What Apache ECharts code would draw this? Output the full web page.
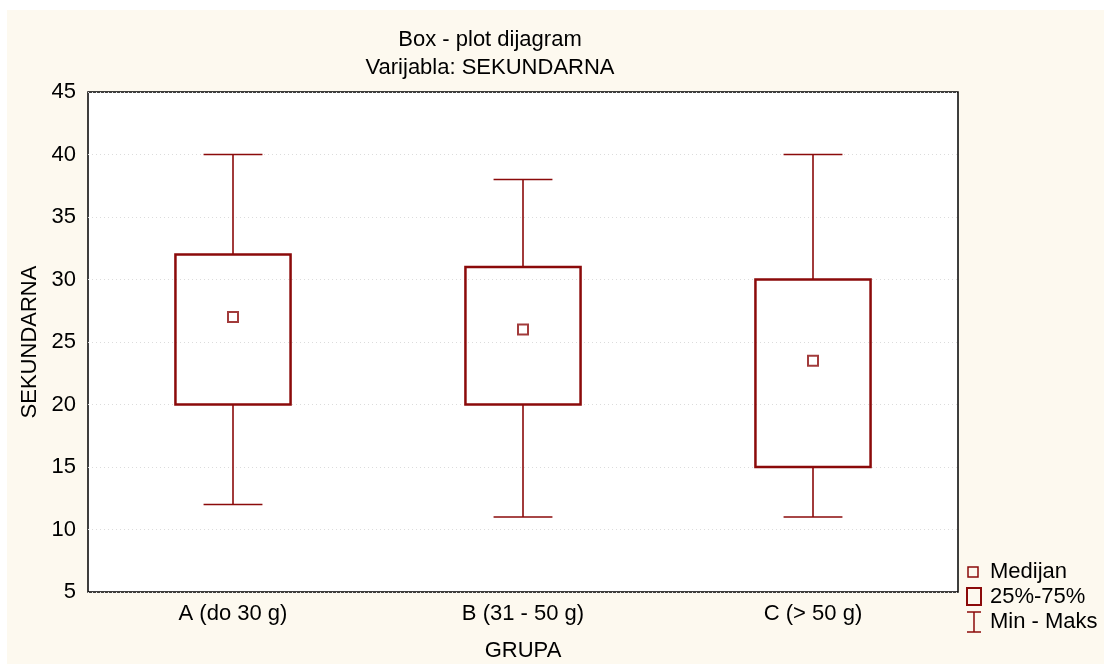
<!DOCTYPE html>
<html><head><meta charset="utf-8">
<script src="https://cdn.jsdelivr.net/npm/echarts@6/dist/echarts.min.js"></script>
<style>html,body{margin:0;padding:0;background:#fff}#c{width:1104px;height:664px}</style>
</head><body><div id="c"></div>
<script>
const categories = ['A (do 30 g)', 'B (31 - 50 g)', 'C (> 50 g)'];
const minVals = [12, 11, 11];
const q1Vals = [20, 20, 15];
const medianVals = [27, 26, 23.5];
const q3Vals = [32, 31, 30];
const maxVals = [40, 38, 40];
const yTicks = [5, 10, 15, 20, 25, 30, 35, 40, 45];
const legendLabels = ['Medijan', '25%-75%', 'Min - Maks'];

const RED = '#8b0a0a';
const FONT = "'Liberation Sans', Arial, sans-serif";
const FS = 22;

const boxData = categories.map((c, i) => [i, minVals[i], q1Vals[i], q3Vals[i], maxVals[i]]);
const medData = categories.map((c, i) => [i, medianVals[i]]);

const chart = echarts.init(document.getElementById('c'));
chart.setOption({
  animation: false,
  backgroundColor: 'transparent',
  graphic: [
    {type: 'rect', z: -10, silent: true, shape: {x: 7, y: 10, width: 1097, height: 654}, style: {fill: '#fdf9ef'}},
    // legend
    {type: 'rect', shape: {x: 968, y: 567, width: 10, height: 10}, style: {fill: 'none', stroke: RED, lineWidth: 1.5}},
    {type: 'rect', shape: {x: 967, y: 588, width: 14, height: 17}, style: {fill: 'none', stroke: RED, lineWidth: 2}},
    {type: 'group', children: [
      {type: 'line', shape: {x1: 967, y1: 612, x2: 981, y2: 612}, style: {stroke: RED, lineWidth: 1.5}},
      {type: 'line', shape: {x1: 974, y1: 612, x2: 974, y2: 632}, style: {stroke: RED, lineWidth: 1.5}},
      {type: 'line', shape: {x1: 967, y1: 632, x2: 981, y2: 632}, style: {stroke: RED, lineWidth: 1.5}}
    ]},
    {type: 'text', x: 990, y: 572, style: {text: legendLabels[0], fill: '#000', font: FS + 'px ' + FONT, verticalAlign: 'middle'}},
    {type: 'text', x: 990, y: 597, style: {text: legendLabels[1], fill: '#000', font: FS + 'px ' + FONT, verticalAlign: 'middle'}},
    {type: 'text', x: 990, y: 622, style: {text: legendLabels[2], fill: '#000', font: FS + 'px ' + FONT, verticalAlign: 'middle'}}
  ],
  title: {
    text: 'Box - plot dijagram\nVarijabla: SEKUNDARNA',
    left: 485, top: 21, textAlign: 'center',
    textStyle: {fontFamily: FONT, fontSize: FS, fontWeight: 'normal', color: '#000', lineHeight: 28}
  },
  grid: {left: 88, right: 146, top: 92, bottom: 72, show: true, backgroundColor: '#fff', borderColor: '#000', borderWidth: 1.5, containLabel: false, outerBoundsMode: 'none'},
  xAxis: {
    type: 'category', data: categories,
    name: 'GRUPA', nameLocation: 'middle', nameGap: 48,
    nameTextStyle: {fontFamily: FONT, fontSize: FS, color: '#000'},
    axisLine: {show: false}, axisTick: {show: false},
    axisLabel: {fontFamily: FONT, fontSize: FS, color: '#000', margin: 11},
    splitLine: {show: false}
  },
  yAxis: {
    type: 'value', min: 5, max: 45, interval: 5,
    name: 'SEKUNDARNA', nameLocation: 'middle', nameGap: 46, nameRotate: 90,
    nameTextStyle: {fontFamily: FONT, fontSize: FS, color: '#000'},
    axisLine: {show: false}, axisTick: {show: false},
    axisLabel: {fontFamily: FONT, fontSize: FS, color: '#000', margin: 12},
    splitLine: {show: true, lineStyle: {color: '#dcdcdc', type: [1, 3], width: 1}}
  },
  series: [
    {
      type: 'custom', data: boxData, z: 3,
      encode: {x: 0, y: [1, 2, 3, 4]},
      renderItem: function (params, api) {
        const i = api.value(0);
        const w = api.size([1, 0])[0];
        const bw = w * 0.397, cw = w * 0.203;
        const pMin = api.coord([i, api.value(1)]);
        const pQ1 = api.coord([i, api.value(2)]);
        const pQ3 = api.coord([i, api.value(3)]);
        const pMax = api.coord([i, api.value(4)]);
        const x = pMin[0];
        const ls = {stroke: RED, lineWidth: 1.6, fill: null};
        return {type: 'group', children: [
          {type: 'line', shape: {x1: x, y1: pMax[1], x2: x, y2: pQ3[1]}, style: ls},
          {type: 'line', shape: {x1: x, y1: pQ1[1], x2: x, y2: pMin[1]}, style: ls},
          {type: 'line', shape: {x1: x - cw / 2, y1: pMax[1], x2: x + cw / 2, y2: pMax[1]}, style: ls},
          {type: 'line', shape: {x1: x - cw / 2, y1: pMin[1], x2: x + cw / 2, y2: pMin[1]}, style: ls},
          {type: 'rect', shape: {x: x - bw / 2, y: pQ3[1], width: bw, height: pQ1[1] - pQ3[1]}, style: {stroke: RED, lineWidth: 2.5, fill: null}}
        ]};
      }
    },
    {
      type: 'scatter', data: medData, z: 4,
      symbol: 'rect', symbolSize: 10,
      itemStyle: {color: '#fff', borderColor: RED, borderWidth: 2}
    }
  ]
});
</script></body></html>
